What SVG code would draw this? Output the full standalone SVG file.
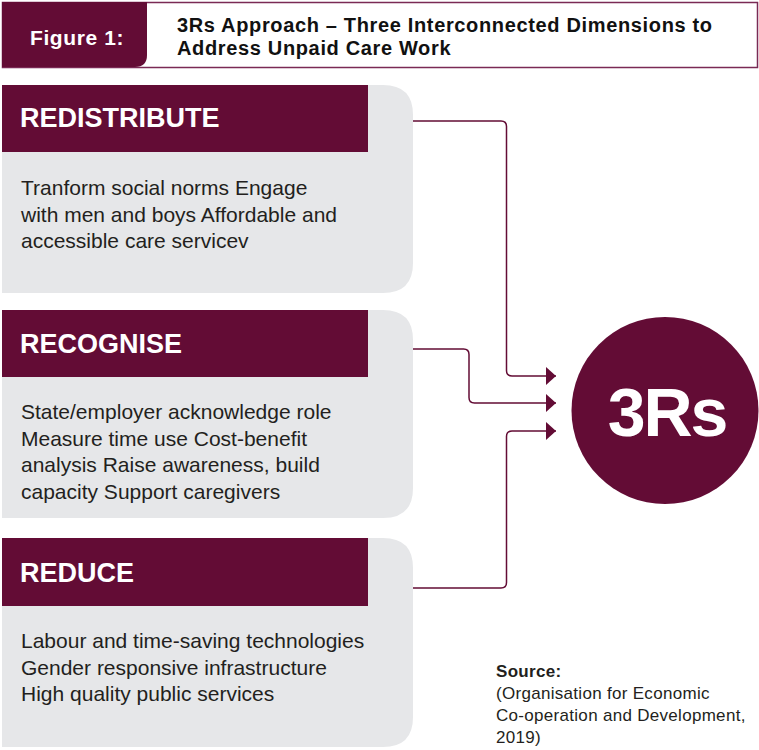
<svg xmlns="http://www.w3.org/2000/svg" width="759" height="750" viewBox="0 0 759 750">
  <defs>
    <marker id="arrow" viewBox="0 0 10 18" refX="10" refY="9" markerWidth="10" markerHeight="18" markerUnits="userSpaceOnUse" orient="auto">
      <path d="M0,0 L10,9 L0,18 Z" fill="#630c35"/>
    </marker>
    <style>
      .panel { fill: #e6e7e9; }
      .band { fill: #630c35; }
      .head { font-family: "Liberation Sans", Arial, sans-serif; font-weight: bold; font-size: 27px; fill: #ffffff; }
      .body { font-family: "Liberation Sans", Arial, sans-serif; font-size: 21px; fill: #231f20; }
      .title { font-family: "Liberation Sans", Arial, sans-serif; font-weight: bold; font-size: 20px; letter-spacing: 0.65px; fill: #111111; }
      .link { fill: none; stroke: #630c35; stroke-width: 1.5; }
      .src { font-family: "Liberation Sans", Arial, sans-serif; font-size: 17px; letter-spacing: 0.3px; fill: #231f20; }
    </style>
  </defs>

  <rect width="759" height="750" fill="#ffffff"/>

  <!-- Figure heading -->
  <g id="figure-header">
    <rect x="2.5" y="2.5" width="755" height="65" fill="#ffffff" stroke="#7a2a55" stroke-width="1.5"/>
    <path d="M2,2 H147 V55 Q147,67 135,67 H2 Z" class="band"/>
    <text x="30" y="45" font-family="Liberation Sans, Arial, sans-serif" font-weight="bold" font-size="21" letter-spacing="0.6" fill="#ffffff">Figure 1:</text>
    <text class="title" x="177" y="32">3Rs Approach – Three Interconnected Dimensions to</text>
    <text class="title" x="177" y="55">Address Unpaid Care Work</text>
  </g>

  <!-- REDISTRIBUTE -->
  <g id="node-redistribute">
    <path d="M2,85 H383 Q413,85 413,115 V263 Q413,293 383,293 H2 Z" class="panel"/>
    <rect x="2" y="85" width="366" height="67" class="band"/>
    <text class="head" x="20" y="127">REDISTRIBUTE</text>
    <text class="body" x="21" y="195">Tranform social norms Engage</text>
    <text class="body" x="21" y="221.5">with men and boys Affordable and</text>
    <text class="body" x="21" y="248">accessible care servicev</text>
  </g>

  <!-- RECOGNISE -->
  <g id="node-recognise">
    <path d="M2,310 H383 Q413,310 413,340 V488 Q413,518 383,518 H2 Z" class="panel"/>
    <rect x="2" y="310" width="366" height="67" class="band"/>
    <text class="head" x="20" y="353">RECOGNISE</text>
    <text class="body" x="21" y="419">State/employer acknowledge role</text>
    <text class="body" x="21" y="445.5">Measure time use Cost-benefit</text>
    <text class="body" x="21" y="472">analysis Raise awareness, build</text>
    <text class="body" x="21" y="498.5">capacity Support caregivers</text>
  </g>

  <!-- REDUCE -->
  <g id="node-reduce">
    <path d="M2,538 H383 Q413,538 413,568 V717 Q413,747 383,747 H2 Z" class="panel"/>
    <rect x="2" y="538" width="366" height="68" class="band"/>
    <text class="head" x="20" y="582">REDUCE</text>
    <text class="body" x="21" y="648">Labour and time-saving technologies</text>
    <text class="body" x="21" y="674.5">Gender responsive infrastructure</text>
    <text class="body" x="21" y="701">High quality public services</text>
  </g>

  <!-- Hub -->
  <g id="node-3rs">
    <circle cx="665" cy="410.5" r="93.5" fill="#630c35"/>
    <text x="667" y="436" text-anchor="middle" font-family="Liberation Sans, Arial, sans-serif" font-weight="bold" font-size="68" letter-spacing="-2" fill="#ffffff">3Rs</text>
  </g>

  <!-- Connectors -->
  <g id="connectors">
    <path class="link" d="M413,121 H501 Q506.5,121 506.5,126.5 V370.5 Q506.5,376 512,376 H556" marker-end="url(#arrow)"/>
    <path class="link" d="M413,349 H463.5 Q469,349 469,354.5 V397.5 Q469,403 474.5,403 H556" marker-end="url(#arrow)"/>
    <path class="link" d="M413,588 H501 Q506.5,588 506.5,582.5 V436.5 Q506.5,431 512,431 H556" marker-end="url(#arrow)"/>
  </g>

  <!-- Source note -->
  <g id="source">
    <text class="src" x="496" y="677" font-weight="bold" fill="#111111">Source:</text>
    <text class="src" x="496" y="699">(Organisation for Economic</text>
    <text class="src" x="496" y="721">Co-operation and Development,</text>
    <text class="src" x="496" y="743">2019)</text>
  </g>
</svg>
